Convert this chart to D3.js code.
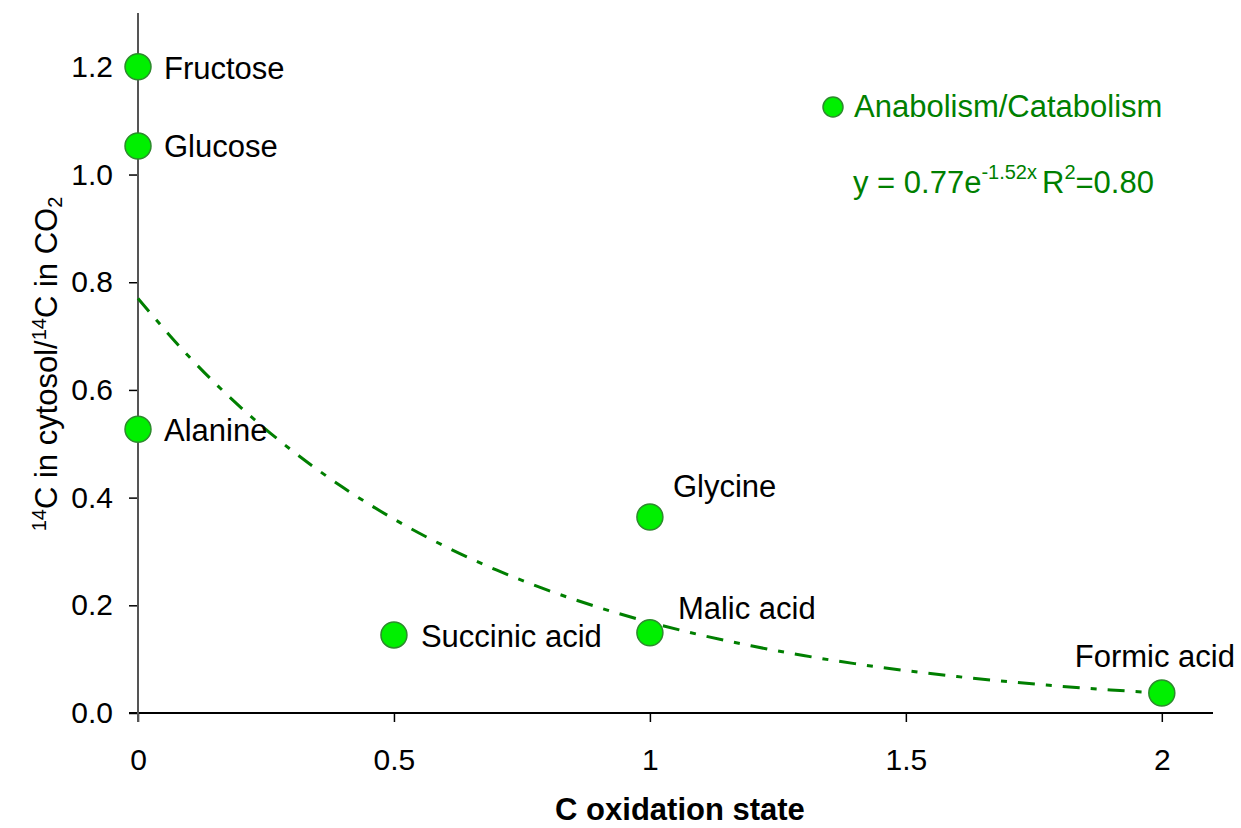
<!DOCTYPE html>
<html>
<head>
<meta charset="utf-8">
<script src="https://cdn.jsdelivr.net/npm/d3@7"></script>
<style>
  body { margin: 0; background: #fff; }
  svg { display: block; font-family: "Liberation Sans", Arial, sans-serif; }
</style>
</head>
<body>
<svg id="chart" width="1241" height="828"></svg>
<script>
// Substrates: carbon oxidation state vs. 14C partitioning ratio
const substrates = ["Fructose", "Glucose", "Alanine", "Succinic acid", "Glycine", "Malic acid", "Formic acid"];
const oxidationState = [0, 0, 0, 0.5, 1, 1, 2];
const ratio = [1.2, 1.053, 0.527, 0.145, 0.364, 0.149, 0.037];
const xTicks = [0, 0.5, 1, 1.5, 2];
const xTickLabels = ["0", "0.5", "1", "1.5", "2"];
const yTicks = [0, 0.2, 0.4, 0.6, 0.8, 1.0, 1.2];
const yTickLabels = ["0.0", "0.2", "0.4", "0.6", "0.8", "1.0", "1.2"];
// exponential fit y = a * e^(b x)
const fitA = 0.77, fitB = -1.52;
const fitSamples = [0, 0.1, 0.2, 0.3, 0.4, 0.5, 0.6, 0.7, 0.8, 0.9, 1.0, 1.1, 1.2, 1.3, 1.4, 1.5, 1.6, 1.7, 1.8, 1.9, 2.0];

const svg = d3.select("#chart");
const x = d3.scaleLinear().domain([0, 2.1]).range([138, 1213]);
const y = d3.scaleLinear().domain([0, 1.3]).range([713, 13]);

const green = "#007f00";
const font = "'Liberation Sans', Arial, sans-serif";

// x axis
const xAxis = svg.append("g").attr("transform", `translate(0,${y(0)})`)
  .call(d3.axisBottom(x).tickValues(xTicks).tickFormat((d, i) => xTickLabels[i]).tickSize(9).tickSizeOuter(0).tickPadding(27));
xAxis.select(".domain").remove();
xAxis.append("line").attr("x1", 129).attr("x2", x(2.1)).attr("y1", 0).attr("y2", 0)
  .attr("stroke", "#000").attr("stroke-width", 2);
xAxis.selectAll(".tick line").attr("stroke", "#000").attr("stroke-width", 1.5);
xAxis.selectAll(".tick text").attr("fill", "#000").style("font-size", "30px").style("font-family", font);

// y axis
const yAxis = svg.append("g").attr("transform", `translate(${x(0)},0)`)
  .call(d3.axisLeft(y).tickValues(yTicks).tickFormat((d, i) => yTickLabels[i]).tickSize(9).tickSizeOuter(0).tickPadding(16));
yAxis.select(".domain").remove();
yAxis.append("line").attr("x1", 0).attr("x2", 0).attr("y1", y(1.3)).attr("y2", 722)
  .attr("stroke", "#555").attr("stroke-width", 2);
yAxis.selectAll(".tick line").attr("stroke", "#000").attr("stroke-width", 1.5);
yAxis.selectAll(".tick text").attr("fill", "#000").style("font-size", "30px").style("font-family", font);

// trend line
const line = d3.line().x(d => x(d)).y(d => y(fitA * Math.exp(fitB * d))).curve(d3.curveMonotoneX);
svg.append("path").datum(fitSamples).attr("d", line)
  .attr("fill", "none").attr("stroke", green).attr("stroke-width", 3)
  .attr("stroke-dasharray", "17,11,6,11");

// points
svg.append("g").selectAll("circle").data(substrates).join("circle")
  .attr("cx", (d, i) => x(oxidationState[i]))
  .attr("cy", (d, i) => y(ratio[i]))
  .attr("r", 13)
  .attr("fill", "#00f000").attr("stroke", "#2d8a2d").attr("stroke-width", 1.5);

// point labels (offset relative to each marker)
const labelOffset = {
  "Fructose": [26, 12], "Glucose": [26, 11], "Alanine": [26, 12],
  "Succinic acid": [27, 12], "Glycine": [23, -20], "Malic acid": [28, -14],
  "Formic acid": [-87, -26]
};
svg.append("g").selectAll("text").data(substrates).join("text")
  .attr("x", (d, i) => x(oxidationState[i]) + labelOffset[d][0])
  .attr("y", (d, i) => y(ratio[i]) + labelOffset[d][1])
  .attr("fill", "#000").style("font-size", "31px")
  .text(d => d);

// legend
svg.append("circle").attr("cx", 833).attr("cy", 107).attr("r", 10)
  .attr("fill", "#00f000").attr("stroke", "#2d8a2d").attr("stroke-width", 1.5);
svg.append("text").attr("x", 854).attr("y", 117).attr("fill", green)
  .style("font-size", "31px").text("Anabolism/Catabolism");
const eq = svg.append("text").attr("x", 853).attr("y", 193).attr("fill", green).style("font-size", "31px");
eq.append("tspan").text("y = 0.77e");
eq.append("tspan").attr("dy", -14).style("font-size", "20px").text("-1.52x");
eq.append("tspan").attr("dy", 14).attr("dx", 5).text("R");
eq.append("tspan").attr("dy", -14).style("font-size", "20px").text("2");
eq.append("tspan").attr("dy", 14).text("=0.80");

// axis titles
svg.append("text").attr("x", 680).attr("y", 820).attr("text-anchor", "middle")
  .attr("fill", "#000").style("font-size", "31px").style("font-weight", "bold")
  .text("C oxidation state");

const yt = svg.append("text").attr("transform", "translate(57,364) rotate(-90)")
  .attr("text-anchor", "middle").attr("fill", "#000").style("font-size", "31px");
yt.append("tspan").attr("dy", -11).style("font-size", "20px").text("14");
yt.append("tspan").attr("dy", 11).text("C in cytosol/");
yt.append("tspan").attr("dy", -11).style("font-size", "20px").text("14");
yt.append("tspan").attr("dy", 11).text("C in CO");
yt.append("tspan").attr("dy", 5).style("font-size", "20px").text("2");
</script>
</body>
</html>
